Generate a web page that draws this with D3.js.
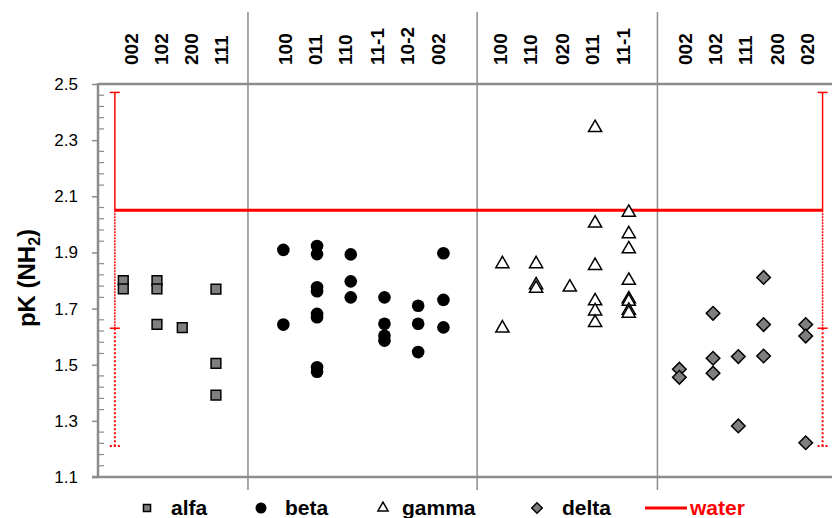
<!DOCTYPE html>
<html>
<head>
<meta charset="utf-8">
<style>
  body { margin: 0; background: #fff; }
  text { font-family: "Liberation Sans", Arial, sans-serif; }
</style>
</head>
<body>
<div id="chart"></div>
<script src="https://d3js.org/d3.v7.min.js"></script>
<script>
// facet labels and x positions (axis units)
const alfaCats = ["002", "102", "200", "111"];
const alfaX = [0.75, 1.75, 2.5, 3.5];
const alfaLabelX = [0.97, 1.87, 2.75, 3.65];
const alfaVals = [[1.80, 1.77], [1.80, 1.77, 1.644], [1.632], [1.769, 1.505, 1.392]];

const betaCats = ["100", "011", "110", "11-1", "10-2", "002"];
const betaX = [5.5, 6.5, 7.5, 8.5, 9.5, 10.25];
const betaLabelX = [5.55, 6.44, 7.33, 8.28, 9.17, 10.09];
const betaVals = [
  [1.909, 1.643],
  [1.923, 1.894, 1.776, 1.762, 1.681, 1.669, 1.491, 1.475],
  [1.893, 1.797, 1.740],
  [1.740, 1.646, 1.603, 1.586],
  [1.710, 1.646, 1.545],
  [1.897, 1.731, 1.633]
];

const gammaCats = ["100", "110", "020", "011", "11-1"];
const gammaX = [12, 13, 14, 14.75, 15.75];
const gammaLabelX = [11.93, 12.82, 13.77, 14.66, 15.58];
const gammaVals = [
  [1.859, 1.630],
  [1.859, 1.784, 1.772],
  [1.776],
  [2.344, 2.004, 1.853, 1.727, 1.691, 1.650],
  [2.042, 1.966, 1.912, 1.800, 1.734, 1.725, 1.693, 1.683]
];

const deltaCats = ["002", "102", "111", "200", "020"];
const deltaX = [17.25, 18.25, 19, 19.75, 21];
const deltaLabelX = [17.42, 18.31, 19.2, 20.15, 21.04];
const deltaVals = [
  [1.484, 1.455],
  [1.683, 1.523, 1.470],
  [1.529, 1.282],
  [1.811, 1.643, 1.531],
  [1.643, 1.602, 1.222]
];

const groupBounds = [4.45, 11.25, 16.6];
const water = 2.05;
const waterX = [0.5, 21.5];
const waterErr = [0.42, 0.84];   // solid upper/lower bar, dotted lower bar
const yTicks = [1.1, 1.3, 1.5, 1.7, 1.9, 2.1, 2.3, 2.5];

const width = 832, height = 518;
const svg = d3.select("#chart").append("svg")
  .attr("width", width).attr("height", height);

const x = d3.scaleLinear().domain([0, 21.75]).range([98, 831]);
const y = d3.scaleLinear().domain([1.1, 2.5]).range([477, 84]);
const axisGray = "#8c8c8c";

// y axis
const yAxis = svg.append("g").attr("transform", "translate(98,0)")
  .call(d3.axisLeft(y).tickValues(yTicks).tickFormat(d3.format(".1f")).tickSize(6).tickPadding(14));
yAxis.select(".domain").remove();
yAxis.selectAll(".tick line").attr("stroke", axisGray).attr("stroke-width", 1.5);
yAxis.selectAll(".tick text").attr("font-size", 17).attr("fill", "#000");

// minor ticks inward
svg.append("g").selectAll("line")
  .data(d3.range(1.14, 2.5, 0.04).filter(v => Math.abs((v - 1.1) / 0.2 - Math.round((v - 1.1) / 0.2)) > 0.01))
  .enter().append("line")
  .attr("x1", 98).attr("x2", 104)
  .attr("y1", d => y(d)).attr("y2", d => y(d))
  .attr("stroke", axisGray).attr("stroke-width", 1.2);

// group separators (extend above and below plot)
svg.append("g").selectAll("line").data(groupBounds).enter().append("line")
  .attr("x1", d => x(d)).attr("x2", d => x(d))
  .attr("y1", 12).attr("y2", 490)
  .attr("stroke", axisGray).attr("stroke-width", 1.5);

// frame lines
svg.append("line").attr("x1", 98).attr("x2", 832).attr("y1", y(2.5)).attr("y2", y(2.5))
  .attr("stroke", axisGray).attr("stroke-width", 2.5);
svg.append("line").attr("x1", 92).attr("x2", 832).attr("y1", y(1.1)).attr("y2", y(1.1))
  .attr("stroke", axisGray).attr("stroke-width", 2.5);
svg.append("line").attr("x1", 98).attr("x2", 98).attr("y1", y(2.5) - 1).attr("y2", y(1.1) + 1)
  .attr("stroke", axisGray).attr("stroke-width", 2.5);

// y title
svg.append("text")
  .attr("transform", "translate(35,278) rotate(-90)")
  .attr("text-anchor", "middle")
  .attr("font-size", 24).attr("font-weight", "bold")
  .html('pK (NH<tspan font-size="16" dy="5">2</tspan><tspan dy="-5">)</tspan>');

// top category labels
const labelSets = [[alfaCats, alfaLabelX], [betaCats, betaLabelX], [gammaCats, gammaLabelX], [deltaCats, deltaLabelX]];
labelSets.forEach(([cats, xs]) => {
  svg.append("g").selectAll("text").data(cats).enter().append("text")
    .attr("transform", (d, i) => `translate(${x(xs[i]) + 7},65) rotate(-90)`)
    .attr("font-size", 19).attr("font-weight", "bold")
    .text(d => d);
});

// water line and error bars
const red = "#ff0000";
svg.append("line")
  .attr("x1", x(waterX[0])).attr("x2", x(waterX[1]))
  .attr("y1", y(water)).attr("y2", y(water))
  .attr("stroke", red).attr("stroke-width", 3);
waterX.forEach(wx => {
  const g = svg.append("g").attr("stroke", red);
  const cx = x(wx);
  g.append("line").attr("x1", cx).attr("x2", cx)
    .attr("y1", y(water)).attr("y2", y(water + waterErr[0])).attr("stroke-width", 1.5);
  g.append("line").attr("x1", cx - 5).attr("x2", cx + 5)
    .attr("y1", y(water + waterErr[0])).attr("y2", y(water + waterErr[0])).attr("stroke-width", 1.5);
  g.append("line").attr("x1", cx).attr("x2", cx)
    .attr("y1", y(water)).attr("y2", y(water - waterErr[0])).attr("stroke-width", 1.5)
    .attr("stroke-dasharray", "2,1");
  g.append("line").attr("x1", cx - 5).attr("x2", cx + 5)
    .attr("y1", y(water - waterErr[0])).attr("y2", y(water - waterErr[0])).attr("stroke-width", 1.5);
  g.append("line").attr("x1", cx).attr("x2", cx)
    .attr("y1", y(water - waterErr[0])).attr("y2", y(water - waterErr[1])).attr("stroke-width", 2)
    .attr("stroke-dasharray", "2,2");
  g.append("line").attr("x1", cx - 5).attr("x2", cx + 5)
    .attr("y1", y(water - waterErr[1])).attr("y2", y(water - waterErr[1])).attr("stroke-width", 2)
    .attr("stroke-dasharray", "2,2");
});

// flatten series
function flat(xs, vals) {
  const out = [];
  vals.forEach((arr, i) => arr.forEach(v => out.push({ x: xs[i], v: v })));
  return out;
}

const gray = "#7f7f7f";
// diamonds are squares turned 45 degrees
const series = [
  { pts: flat(alfaX, alfaVals), sym: d3.symbolSquare, size: 95, fill: gray, sw: 1.5, rot: 0 },
  { pts: flat(betaX, betaVals), sym: d3.symbolCircle, size: 125, fill: "#000", sw: 0, rot: 0 },
  { pts: flat(gammaX, gammaVals), sym: d3.symbolTriangle, size: 75, fill: "#fff", sw: 1.5, rot: 0 },
  { pts: flat(deltaX, deltaVals), sym: d3.symbolSquare, size: 92, fill: gray, sw: 1.5, rot: 45 }
];

series.forEach(s => {
  const shape = d3.symbol().type(s.sym).size(s.size);
  svg.append("g").selectAll("path").data(s.pts).enter().append("path")
    .attr("d", shape)
    .attr("transform", d => `translate(${x(d.x)},${y(d.v)}) rotate(${s.rot})`)
    .attr("fill", s.fill)
    .attr("stroke", "#000").attr("stroke-width", s.sw);
});

// legend
const legendItems = [
  { name: "alfa", sym: d3.symbolSquare, size: 50, fill: gray, rot: 0, mx: 147, tx: 171 },
  { name: "beta", sym: d3.symbolCircle, size: 95, fill: "#000", rot: 0, mx: 261, tx: 285 },
  { name: "gamma", sym: d3.symbolTriangle, size: 45, fill: "#fff", rot: 0, mx: 383, tx: 402 },
  { name: "delta", sym: d3.symbolSquare, size: 55, fill: gray, rot: 45, mx: 537, tx: 562 }
];
const legY = 508;
legendItems.forEach(it => {
  svg.append("path")
    .attr("d", d3.symbol().type(it.sym).size(it.size))
    .attr("transform", `translate(${it.mx},${legY}) rotate(${it.rot})`)
    .attr("fill", it.fill).attr("stroke", "#000").attr("stroke-width", it.name === "beta" ? 0 : 1.5);
  svg.append("text").attr("x", it.tx).attr("y", legY + 7)
    .attr("font-size", 21).attr("font-weight", "bold").text(it.name);
});
svg.append("line").attr("x1", 645).attr("x2", 687).attr("y1", legY).attr("y2", legY)
  .attr("stroke", red).attr("stroke-width", 3);
svg.append("text").attr("x", 690).attr("y", legY + 7)
  .attr("font-size", 21).attr("font-weight", "bold").attr("fill", red).text("water");
</script>
</body>
</html>
